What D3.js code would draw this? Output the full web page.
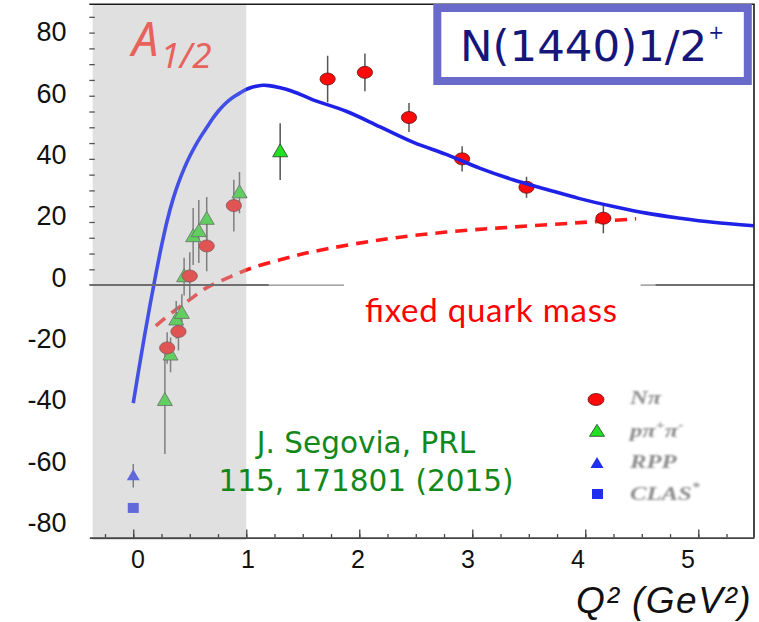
<!DOCTYPE html>
<html>
<head>
<meta charset="utf-8">
<script src="https://cdn.jsdelivr.net/npm/d3@7"></script>
<style>
  html, body { margin: 0; padding: 0; background: #fff; }
  svg { display: block; }
</style>
</head>
<body>
<svg id="chart" width="759" height="622"></svg>
<script>
// ---- data -------------------------------------------------------------
// Full DSE result for A1/2 (solid blue curve)
const fullQ2 = [0, 0.05, 0.10, 0.15, 0.20, 0.25, 0.30, 0.35, 0.40, 0.45, 0.50, 0.55, 0.60,
                0.65, 0.70, 0.75, 0.80, 0.85, 0.90, 0.95, 1.00, 1.05, 1.10, 1.15, 1.20,
                1.30, 1.40, 1.50, 1.59, 1.89, 2.18, 2.48, 2.77, 3.07, 3.36, 3.66,
                3.95, 4.25, 4.54, 4.84, 5.13, 5.49];
const fullA  = [-37.4, -26.5, -16.0, -6.0, 3.5, 12.4, 20.4, 27.0, 32.4, 36.9, 40.8, 44.2, 47.2,
                49.9, 52.6, 55.0, 57.0, 58.6, 59.9, 61.0, 62.0, 62.7, 63.1, 63.3, 63.2,
                62.5, 61.5, 60.1, 58.7, 55.0, 50.2, 45.2, 41.4, 37.0, 33.4, 30.3,
                27.4, 24.9, 22.8, 21.2, 19.9, 18.8];

// Fixed quark mass result (dashed red curve)
const fixedQ2 = [0.20, 0.354, 0.50, 0.65, 0.83, 1.03, 1.30, 1.59, 2.18, 2.77, 3.36, 3.95, 4.45];
const fixedA  = [-12.9, -8.4, -4.6, -0.8, 2.2, 5.2, 8.0, 10.6, 14.3, 16.8, 18.4, 19.8, 21.0];

// N pi electroproduction
const npiQ2  = [0.30, 0.40, 0.50, 0.65, 0.89, 1.72, 2.05, 2.44, 2.91, 3.48, 4.16];
const npiA   = [-19.9, -14.7, 2.9, 12.4, 25.2, 65.3, 67.4, 53.1, 40.0, 31.0, 21.2];
const npiErr = [5.0, 6.0, 7.5, 8.0, 8.2, 7.4, 6.0, 4.6, 4.0, 3.3, 4.8];

// p pi+ pi- electroproduction
const pipiQ2  = [0.28, 0.33, 0.38, 0.43, 0.45, 0.53, 0.58, 0.65, 0.94, 1.30];
const pipiA   = [-36.5, -22.1, -11.0, -8.9, 2.7, 15.4, 17.0, 20.9, 29.3, 42.3];
const pipiErr = [17.0, 5.5, 6.0, 6.0, 6.0, 9.0, 10.0, 7.0, 6.5, 9.0];

// Photon point
const rppQ2 = [0], rppA = [-60.4], rppErr = [3.7];
const clasQ2 = [0], clasA = [-70.6], clasErr = [1.2];

// Axis tick labels
const xTickLabels = [0, 1, 2, 3, 4, 5];
const yTickLabels = [80, 60, 40, 20, 0, -20, -40, -60, -80];

// ---- layout -----------------------------------------------------------
const svg = d3.select("#chart");
const L = 89.3, R = 754, T = 4.2, B = 537.6;

const x = d3.scaleLinear().domain([-0.389, 5.493]).range([L, R]);
const y = d3.scaleLinear().domain([-80, 89]).range([B, T]);
// tick labels sit on a slightly tighter grid than the tick marks
const xLab = d3.scaleLinear().domain([0, 5]).range([137.5, 687.5]);
const yLab = d3.scaleLinear().domain([-80, 80]).range([523, 32]);

const bandLo = -0.359, bandHi = 1;

const defs = svg.append("defs");
defs.append("clipPath").attr("id", "plotClip")
  .append("rect").attr("x", L).attr("y", T).attr("width", R - L).attr("height", B - T);
defs.append("filter").attr("id", "soft")
  .append("feGaussianBlur").attr("stdDeviation", 0.8);
// the model curve is a little paler inside the low-Q2 band
const bandFrac = (x(bandHi) - L) / (R - L);
const grad = defs.append("linearGradient").attr("id", "fullGrad")
  .attr("gradientUnits", "userSpaceOnUse")
  .attr("x1", L).attr("x2", R).attr("y1", 0).attr("y2", 0);
grad.append("stop").attr("offset", 0).attr("stop-color", "#4250e6");
grad.append("stop").attr("offset", bandFrac).attr("stop-color", "#4250e6");
grad.append("stop").attr("offset", bandFrac).attr("stop-color", "#1f22e6");
grad.append("stop").attr("offset", 1).attr("stop-color", "#1f22e6");

svg.append("rect").attr("width", 759).attr("height", 622).attr("fill", "#fff");

const plot = svg.append("g").attr("clip-path", "url(#plotClip)");

// ---- curves -----------------------------------------------------------
const line = d3.line()
  .x(d => x(d[0])).y(d => y(d[1]))
  .curve(d3.curveCatmullRom.alpha(0.5));

plot.append("path")
  .datum(d3.zip(fixedQ2, fixedA))
  .attr("d", line)
  .attr("fill", "none")
  .attr("stroke", "#ff1a1a")
  .attr("stroke-width", 3.6)
  .attr("stroke-dasharray", "12 8");

// ---- data points ------------------------------------------------------
function errorBars(q, a, e) {
  plot.append("g").selectAll("line")
    .data(d3.zip(q, a, e)).join("line")
    .attr("x1", d => x(d[0])).attr("x2", d => x(d[0]))
    .attr("y1", d => y(d[1] - d[2])).attr("y2", d => y(d[1] + d[2]))
    .attr("stroke", "#555").attr("stroke-width", 1.5);
}
errorBars(rppQ2, rppA, rppErr);
errorBars(clasQ2, clasA, clasErr);
errorBars(pipiQ2, pipiA, pipiErr);
errorBars(npiQ2, npiA, npiErr);

const tri = (w, h) => `M0,${-h * 0.6}L${w / 2},${h * 0.4}L${-w / 2},${h * 0.4}Z`;

plot.append("g").selectAll("path")
  .data(d3.zip(pipiQ2, pipiA)).join("path")
  .attr("d", tri(15, 13))
  .attr("transform", d => `translate(${x(d[0])},${y(d[1])})`)
  .attr("fill", "#22e022").attr("stroke", "#2a3a2a").attr("stroke-width", 0.8);

plot.append("g").selectAll("ellipse")
  .data(d3.zip(npiQ2, npiA)).join("ellipse")
  .attr("cx", d => x(d[0])).attr("cy", d => y(d[1]))
  .attr("rx", 7.6).attr("ry", 6)
  .attr("fill", "#ff0a0a").attr("stroke", "#5a1010").attr("stroke-width", 0.8);

plot.append("g").selectAll("path")
  .data(d3.zip(rppQ2, rppA)).join("path")
  .attr("d", tri(13, 11))
  .attr("transform", d => `translate(${x(d[0])},${y(d[1])})`)
  .attr("fill", "#1f2ff0");

plot.append("g").selectAll("rect")
  .data(d3.zip(clasQ2, clasA)).join("rect")
  .attr("x", d => x(d[0]) - 5.5).attr("y", d => y(d[1]) - 5)
  .attr("width", 11).attr("height", 10)
  .attr("fill", "#1f2ff0");

// ---- low-Q2 band (translucent grey over the marks) ---------------------
svg.append("rect")
  .attr("x", x(bandLo)).attr("y", T)
  .attr("width", x(bandHi) - x(bandLo)).attr("height", B - T + 2.5)
  .attr("fill", "rgb(184,184,184)").attr("fill-opacity", 0.43);

// model curve on top of the band
svg.append("g").attr("clip-path", "url(#plotClip)")
  .append("path")
  .datum(d3.zip(fullQ2, fullA))
  .attr("d", line)
  .attr("fill", "none")
  .attr("stroke", "url(#fullGrad)")
  .attr("stroke-width", 3.6);

// ---- zero line --------------------------------------------------------
const zeroSeg = (q0, q1, col, w) => svg.append("line")
  .attr("x1", x(q0)).attr("x2", x(q1)).attr("y1", y(0)).attr("y2", y(0))
  .attr("stroke", col).attr("stroke-width", w);
zeroSeg(-0.389, 1.20, "#6f6f6f", 2);
zeroSeg(1.20, 1.865, "#8a8a8a", 1.3);
zeroSeg(4.49, 4.62, "#8a8a8a", 1.3);
zeroSeg(4.62, 5.493, "#6f6f6f", 2);

// ---- axes -------------------------------------------------------------
const xMinor = svg.append("g").attr("transform", `translate(0,${B})`)
  .call(d3.axisBottom(x).tickValues(d3.range(-0.25, 5.26, 0.25)).tickSize(-3.5).tickFormat(""));
xMinor.select(".domain").remove();
const xMajor = svg.append("g").attr("transform", `translate(0,${B})`)
  .call(d3.axisBottom(x).tickValues(xTickLabels).tickSize(-8).tickSizeOuter(0).tickFormat(""));
svg.selectAll(".tick line").attr("stroke", "#444").attr("stroke-width", 1.3);
xMajor.select(".domain").attr("stroke", "#444").attr("stroke-width", 1.6);

const yMinor = svg.append("g").attr("transform", `translate(${L},0)`)
  .call(d3.axisLeft(y).tickValues(d3.range(5, 86, 5)).tickSize(-5.5).tickFormat(""));
yMinor.select(".domain").remove();
yMinor.selectAll(".tick line").attr("stroke", "#555").attr("stroke-width", 1.3);

// tick labels
const xl = svg.append("g").attr("transform", `translate(0,${B})`)
  .call(d3.axisBottom(xLab).tickValues(xTickLabels).tickSize(0).tickPadding(13)
    .tickFormat(d => String(d)));
xl.select(".domain").remove();
xl.selectAll("text")
  .attr("font-family", "'Liberation Sans', Arial, sans-serif")
  .attr("font-size", 25).attr("fill", "#111");

const yl = svg.append("g").attr("transform", `translate(66.5,0)`)
  .call(d3.axisLeft(yLab).tickValues(yTickLabels).tickSize(0).tickPadding(0)
    .tickFormat(d => String(d)));
yl.select(".domain").remove();
yl.selectAll("text")
  .attr("font-family", "'Liberation Sans', Arial, sans-serif")
  .attr("font-size", 27).attr("fill", "#111");

// frame (top and right)
svg.append("path")
  .attr("d", `M${L},${T}H${R}V${B}`)
  .attr("fill", "none").attr("stroke", "#1a1a1a").attr("stroke-width", 1.6);

// ---- annotations ------------------------------------------------------
// title box
svg.append("rect")
  .attr("x", 437.3).attr("y", 8).attr("width", 310.5).attr("height", 73)
  .attr("fill", "#fff").attr("stroke", "#6a6acb").attr("stroke-width", 8);
const title = svg.append("text")
  .attr("x", 460).attr("y", 60.5)
  .attr("font-family", "'DejaVu Sans', Verdana, sans-serif")
  .attr("font-size", 43.5).attr("fill", "#16167a")
  .text("N(1440)1/2");
title.append("tspan").attr("font-size", 19).attr("dy", -22).attr("dx", 1).text("+");

// amplitude label
const amp = svg.append("text")
  .attr("x", 132).attr("y", 56)
  .attr("font-family", "'Noto Sans', sans-serif").attr("font-style", "italic")
  .attr("fill", "#e8625c").attr("font-size", 47).text("A");
amp.append("tspan").attr("font-size", 35).attr("dy", 12).attr("dx", 2).text("1/2");

// curve label
svg.append("text")
  .attr("x", 365).attr("y", 322)
  .attr("font-family", "Lato, 'Open Sans', sans-serif")
  .attr("font-size", 33).attr("fill", "#ff0000")
  .attr("textLength", 252).attr("lengthAdjust", "spacing")
  .text("fixed quark mass");

// reference
const ref = svg.append("text")
  .attr("font-family", "'DejaVu Sans', sans-serif")
  .attr("font-size", 29.5).attr("fill", "#13881a")
  .attr("text-anchor", "middle");
ref.append("tspan").attr("x", 366).attr("y", 453).text("J. Segovia, PRL");
ref.append("tspan").attr("x", 366).attr("y", 491).text("115, 171801 (2015)");

// axis title
svg.append("text")
  .attr("x", 752).attr("y", 613)
  .attr("text-anchor", "end")
  .attr("font-family", "'Liberation Sans', Arial, sans-serif")
  .attr("font-style", "italic").attr("font-size", 37)
  .attr("letter-spacing", 1.5).attr("fill", "#111")
  .text("Q² (GeV²)");

// ---- legend -----------------------------------------------------------
const lg = svg.append("g");
lg.append("ellipse").attr("cx", 596).attr("cy", 399.5).attr("rx", 8).attr("ry", 6)
  .attr("fill", "#ff0a0a").attr("stroke", "#5a1010").attr("stroke-width", 0.8);
lg.append("path").attr("d", tri(15, 12)).attr("transform", "translate(597,431.5)")
  .attr("fill", "#22e022").attr("stroke", "#2a3a2a").attr("stroke-width", 0.8);
lg.append("path").attr("d", tri(13, 11)).attr("transform", "translate(597,463.5)")
  .attr("fill", "#1f2ff0");
lg.append("rect").attr("x", 592).attr("y", 489).attr("width", 11).attr("height", 10)
  .attr("fill", "#1f2ff0");

// legend labels are set wide, as in the source figure
const lgText = lg.append("g")
  .attr("transform", "translate(630,0) scale(1.3,1) translate(-630,0)")
  .attr("font-family", "'Liberation Serif', 'Times New Roman', serif")
  .attr("font-style", "italic").attr("font-weight", "bold")
  .attr("font-size", 19).attr("fill", "#8c8c8c")
  .attr("filter", "url(#soft)");
lgText.append("text").attr("x", 630).attr("y", 404).text("Nπ");
const pp = lgText.append("text").attr("x", 630).attr("y", 437).text("pπ");
pp.append("tspan").attr("font-size", 12).attr("dy", -8).text("+");
pp.append("tspan").attr("font-size", 19).attr("dy", 8).text("π");
pp.append("tspan").attr("font-size", 12).attr("dy", -8).text("-");
lgText.append("text").attr("x", 630).attr("y", 468.5).text("RPP");
const cl = lgText.append("text").attr("x", 630).attr("y", 500).text("CLAS");
cl.append("tspan").attr("font-size", 12).attr("dy", -9).text("*");
</script>
</body>
</html>
